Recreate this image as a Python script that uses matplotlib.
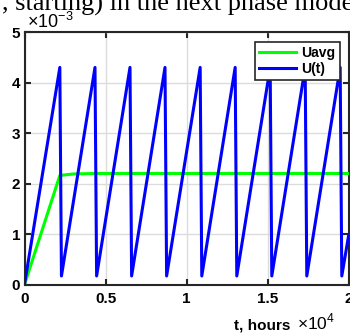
import numpy as np
import matplotlib
matplotlib.use("Agg")
import matplotlib.pyplot as plt

plt.rcParams["font.family"] = ["Liberation Sans", "DejaVu Sans"]
plt.rcParams["mathtext.fontset"] = "custom"
plt.rcParams["mathtext.rm"] = "Liberation Sans"

# U(t): sawtooth, times in hours, values in units of 1e-3
u_t = [0, 2180, 2280, 4350, 4450, 6510, 6610, 8670, 8770, 10840, 10940,
       13000, 13100, 15160, 15260, 17320, 17420, 19480, 19580, 20000]
u_v = [0.0, 4.3, 0.17, 4.3, 0.17, 4.3, 0.17, 4.3, 0.17, 4.3, 0.17,
       4.3, 0.17, 4.3, 0.17, 4.3, 0.17, 4.3, 0.17, 0.97]

# Uavg: running average
ua_t = [0, 2180, 3000, 4400, 20000]
ua_v = [0.0, 2.16, 2.19, 2.2, 2.2]

x_ticks = [0, 5000, 10000, 15000, 20000]
x_labels = ["0", "0.5", "1", "1.5", "2"]
y_ticks = [0, 1, 2, 3, 4, 5]
y_labels = ["0", "1", "2", "3", "4", "5"]

fig = plt.figure(figsize=(3.5, 3.34), dpi=100)
ax = fig.add_axes([0.07, 0.148, 0.926, 0.756])

ax.plot(ua_t, np.array(ua_v) * 1e-3, color="#00ff00", linewidth=2.2, label="Uavg", zorder=3)
ax.plot(u_t, np.array(u_v) * 1e-3, color="#0000ff", linewidth=2.2, label="U(t)", zorder=4)

ax.set_xlim(0, 20000)
ax.set_ylim(0, 5e-3)
ax.set_xticks(x_ticks)
ax.set_xticklabels(x_labels)
ax.set_yticks(np.array(y_ticks) * 1e-3)
ax.set_yticklabels(y_labels)

for lab in ax.get_xticklabels() + ax.get_yticklabels():
    lab.set_fontweight("bold")
    lab.set_fontsize(11)

ax.tick_params(direction="in", length=4, width=1.5, top=True, right=True,
               color="#262626", pad=5)
ax.tick_params(axis="y", pad=3)
for s in ax.spines.values():
    s.set_linewidth(1.5)
    s.set_color("#262626")
ax.grid(True, color="#dcdcdc", linewidth=1)
ax.set_axisbelow(True)

# exponent labels (MATLAB style)
fig.text(27 / 350, (334 - 28) / 334, r"$\times10^{-3}$", fontsize=13,
         ha="left", va="baseline")
fig.text(234 / 350, (334 - 329) / 334, "t, hours", fontsize=11, fontweight="bold",
         ha="left", va="baseline")
fig.text(297 / 350, (334 - 329) / 334, r"$\times10^{4}$", fontsize=12.5,
         ha="left", va="baseline")

# cropped document text above the figure
fig.text(0.005, (334 - 10.5) / 334, ", starting) in the next phase mode",
         family="Liberation Serif", fontsize=19, ha="left", va="baseline")

leg = ax.legend(loc="upper right", bbox_to_anchor=(0.972, 0.960), borderaxespad=0,
                fancybox=False, framealpha=1, edgecolor="#262626",
                prop={"weight": "bold", "size": 10}, handlelength=2.7,
                borderpad=0.3, labelspacing=0.12, handletextpad=0.35)
leg.get_frame().set_linewidth(1.2)

fig.savefig("out.png", dpi=100)
